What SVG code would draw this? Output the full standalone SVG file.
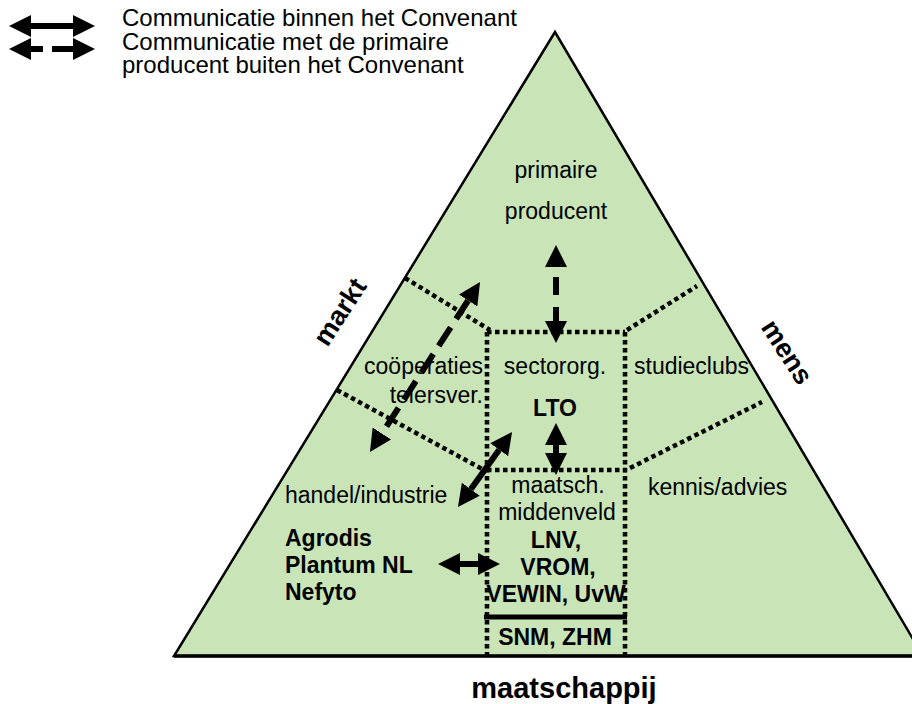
<svg xmlns="http://www.w3.org/2000/svg" width="912" height="704" viewBox="0 0 912 704">
<style>
.t{font-family:"Liberation Sans",Arial,sans-serif;font-size:23px;fill:#000}
.b{font-family:"Liberation Sans",Arial,sans-serif;font-size:23px;font-weight:bold;fill:#000}
.lg{font-size:24px}
.m{text-anchor:middle}
.e{text-anchor:end}
.dot{fill:none;stroke:#000;stroke-width:4.5;stroke-dasharray:4.5 3.5}
.sh{fill:none;stroke:#000;stroke-width:6}
.arr{marker-start:url(#ah);marker-end:url(#ah)}
</style>
<defs>
<marker id="ah" markerUnits="userSpaceOnUse" viewBox="0 -11 22 22" refX="0" refY="0" markerWidth="22" markerHeight="22" orient="auto-start-reverse">
<path d="M0,-11 L22,0 L0,11 Z" fill="#000"/>
</marker>
</defs>
<rect width="912" height="704" fill="#fff"/>
<g id="triangle">
<polygon points="555,32 174,656 923,656" fill="#c9e5b8" stroke="#000" stroke-width="2.5" stroke-linejoin="miter"/>
<line x1="174" y1="656" x2="912" y2="656" stroke="#000" stroke-width="3.5"/>
</g>
<g id="dividers">
<path class="dot" d="M405,278 L490,330"/>
<path class="dot" d="M487,332 L625,332"/>
<path class="dot" d="M627,330 L697,286"/>
<path class="dot" d="M337,390 L484,470"/>
<path class="dot" d="M487,470 L627,470"/>
<path class="dot" d="M630,468 L762,402"/>
<path class="dot" d="M487,332 L487,656"/>
<path class="dot" d="M625,332 L625,656"/>
<line x1="484" y1="617" x2="627" y2="617" stroke="#000" stroke-width="5"/>
</g>
<g id="legend">
<line class="sh arr" x1="31" y1="26" x2="73" y2="26"/>
<line class="sh arr" x1="31" y1="49" x2="73" y2="49" stroke-dasharray="12 9 21"/>
<text class="t lg" x="122" y="26">Communicatie binnen het Convenant</text>
<text class="t lg" x="122" y="49.5">Communicatie met de primaire</text>
<text class="t lg" x="122" y="73">producent buiten het Convenant</text>
</g>
<g id="axis-labels">
<text class="b m" style="font-size:27px" transform="translate(340,312) rotate(-57)" dy="9">markt</text>
<text class="b m" style="font-size:27px" transform="translate(787,352) rotate(57)" dy="9">mens</text>
<text class="b m" style="font-size:29px" x="564" y="698">maatschappij</text>
</g>
<g id="node-primaire">
<text class="t m" x="556" y="178">primaire</text>
<text class="t m" x="556" y="219">producent</text>
</g>
<g id="node-cooperaties">
<text class="t e" x="483" y="374">coöperaties</text>
<text class="t e" x="483" y="403">telersver.</text>
</g>
<g id="node-sectororg">
<text class="t m" x="555" y="374">sectororg.</text>
<text class="b m" x="555" y="416">LTO</text>
</g>
<g id="node-studieclubs">
<text class="t" x="634" y="374">studieclubs</text>
</g>
<g id="node-handel">
<text class="t" x="285" y="503">handel/industrie</text>
<text class="b" x="285" y="546">Agrodis</text>
<text class="b" x="285" y="573">Plantum NL</text>
<text class="b" x="285" y="600">Nefyto</text>
</g>
<g id="node-kennis">
<text class="t" x="648" y="495">kennis/advies</text>
</g>
<g id="node-middenveld">
<text class="t m" x="558" y="493">maatsch.</text>
<text class="t m" x="557" y="520">middenveld</text>
<text class="b m" x="556" y="548">LNV,</text>
<text class="b m" x="558" y="575">VROM,</text>
<text class="b m" x="556" y="602">VEWIN, UvW</text>
<text class="b m" x="555" y="645">SNM, ZHM</text>
</g>
<g id="connectors">
<line class="sh arr" x1="556" y1="267" x2="556" y2="321" stroke-dasharray="0 10 18 12 14"/>
<line class="sh arr" x1="556" y1="445" x2="556" y2="453"/>
<line class="sh arr" x1="499.2" y1="449.8" x2="470.8" y2="489.2"/>
<line class="sh arr" x1="468.1" y1="300.5" x2="381.9" y2="433.5" stroke-width="5" stroke-dasharray="22 10"/>
<line class="sh arr" x1="460" y1="564" x2="478" y2="564"/>
</g>
</svg>
